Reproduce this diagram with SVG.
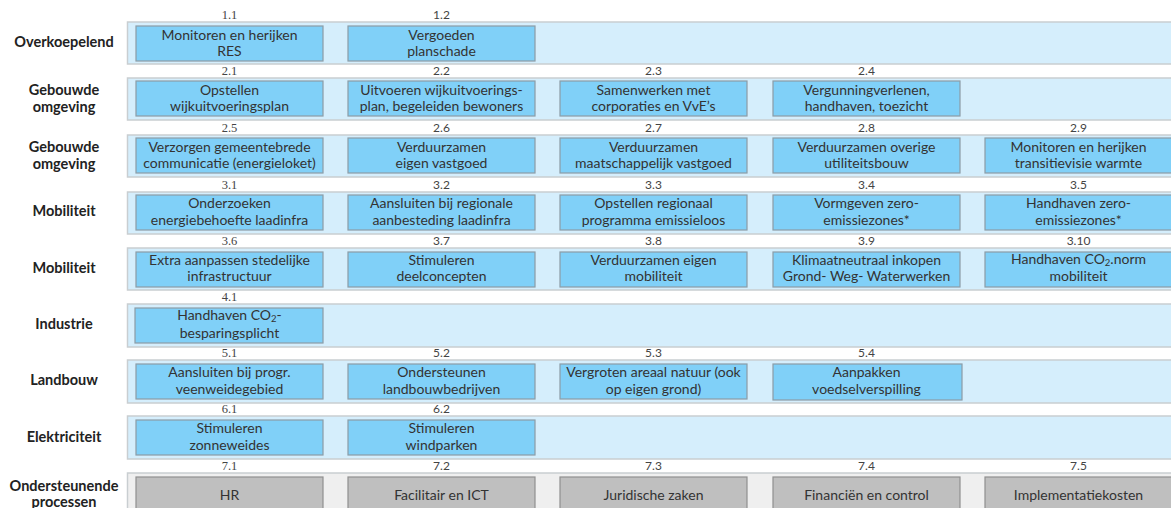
<svg xmlns="http://www.w3.org/2000/svg" width="1171" height="508" viewBox="0 0 1171 508">
<style>
.band{fill:#d5eefc;stroke:#c9ced1;stroke-width:1.5}
.bandg{fill:#efefef;stroke:#c9ced1;stroke-width:1.5}
.box{fill:#80d0f8;stroke:#8c9ca6;stroke-width:1.2}
.boxg{fill:#bfbfbf;stroke:#8f8f8f;stroke-width:1.2}
.t{font-family:Lato,"Open Sans",sans-serif;font-size:14px;fill:#333;text-anchor:middle}
.rl{font-family:Lato,"Open Sans",sans-serif;font-size:14.5px;font-weight:bold;fill:#222;text-anchor:middle}
.n{font-family:Lato,"Open Sans",sans-serif;font-size:12px;fill:#444;text-anchor:middle}
.ns{font-family:"Liberation Serif",serif;font-size:12.5px;fill:#444;text-anchor:middle}
.sub{font-size:9.5px}
</style>
<rect width="1171" height="508" fill="#ffffff"/>
<g id="bands">
<rect class="band" x="127.5" y="22" width="1060" height="42"/>
<rect class="band" x="127.5" y="78" width="1060" height="42"/>
<rect class="band" x="127.5" y="135" width="1060" height="42"/>
<rect class="band" x="127.5" y="192" width="1060" height="42"/>
<rect class="band" x="127.5" y="248" width="1060" height="42"/>
<rect class="band" x="127.5" y="304" width="1060" height="43"/>
<rect class="band" x="127.5" y="360" width="1060" height="43"/>
<rect class="band" x="127.5" y="416" width="1060" height="43"/>
<rect class="bandg" x="127.5" y="473" width="1060" height="50"/>
</g>
<g id="row-labels">
<text class="rl" x="64" y="47">Overkoepelend</text>
<text class="rl" x="64" y="95">Gebouwde</text><text class="rl" x="64" y="112">omgeving</text>
<text class="rl" x="64" y="152">Gebouwde</text><text class="rl" x="64" y="169">omgeving</text>
<text class="rl" x="64" y="216">Mobiliteit</text>
<text class="rl" x="64" y="273">Mobiliteit</text>
<text class="rl" x="64" y="329">Industrie</text>
<text class="rl" x="64" y="385">Landbouw</text>
<text class="rl" x="64" y="442">Elektriciteit</text>
<text class="rl" x="64" y="491">Ondersteunende</text><text class="rl" x="64" y="507">processen</text>
</g>
<g id="n1-1"><text class="ns" x="229.5" y="19">1.1</text><rect class="box" x="136" y="26" width="187" height="35"/><text class="t" x="229.5" y="40">Monitoren en herijken</text><text class="t" x="229.5" y="56">RES</text></g>
<g id="n1-2"><text class="n" x="441.5" y="19">1.2</text><rect class="box" x="348" y="26" width="187" height="35"/><text class="t" x="441.5" y="40">Vergoeden</text><text class="t" x="441.5" y="56">planschade</text></g>

<g id="n2-1"><text class="ns" x="229.5" y="75">2.1</text><rect class="box" x="136" y="81" width="187" height="35"/><text class="t" x="229.5" y="95">Opstellen</text><text class="t" x="229.5" y="111">wijkuitvoeringsplan</text></g>
<g id="n2-2"><text class="n" x="441.5" y="75">2.2</text><rect class="box" x="348" y="81" width="187" height="35"/><text class="t" x="441.5" y="95">Uitvoeren wijkuitvoerings-</text><text class="t" x="441.5" y="111">plan, begeleiden bewoners</text></g>
<g id="n2-3"><text class="n" x="653.5" y="75">2.3</text><rect class="box" x="560" y="81" width="187" height="35"/><text class="t" x="653.5" y="95">Samenwerken met</text><text class="t" x="653.5" y="111">corporaties en VvE’s</text></g>
<g id="n2-4"><text class="n" x="866.5" y="75">2.4</text><rect class="box" x="773" y="81" width="187" height="35"/><text class="t" x="866.5" y="95">Vergunningverlenen,</text><text class="t" x="866.5" y="111">handhaven, toezicht</text></g>

<g id="n2-5"><text class="ns" x="229.5" y="132">2.5</text><rect class="box" x="136" y="138" width="187" height="35"/><text class="t" x="229.5" y="152">Verzorgen gemeentebrede</text><text class="t" x="229.5" y="168">communicatie (energieloket)</text></g>
<g id="n2-6"><text class="n" x="441.5" y="132">2.6</text><rect class="box" x="348" y="138" width="187" height="35"/><text class="t" x="441.5" y="152">Verduurzamen</text><text class="t" x="441.5" y="168">eigen vastgoed</text></g>
<g id="n2-7"><text class="n" x="653.5" y="132">2.7</text><rect class="box" x="560" y="138" width="187" height="35"/><text class="t" x="653.5" y="152">Verduurzamen</text><text class="t" x="653.5" y="168">maatschappelijk vastgoed</text></g>
<g id="n2-8"><text class="n" x="866.5" y="132">2.8</text><rect class="box" x="773" y="138" width="187" height="35"/><text class="t" x="866.5" y="152">Verduurzamen overige</text><text class="t" x="866.5" y="168">utiliteitsbouw</text></g>
<g id="n2-9"><text class="n" x="1078.5" y="132">2.9</text><rect class="box" x="985" y="138" width="187" height="35"/><text class="t" x="1078.5" y="152">Monitoren en herijken</text><text class="t" x="1078.5" y="168">transitievisie warmte</text></g>

<g id="n3-1"><text class="ns" x="229.5" y="189">3.1</text><rect class="box" x="136" y="195" width="187" height="35"/><text class="t" x="229.5" y="208">Onderzoeken</text><text class="t" x="229.5" y="225">energiebehoefte laadinfra</text></g>
<g id="n3-2"><text class="n" x="441.5" y="189">3.2</text><rect class="box" x="348" y="195" width="187" height="35"/><text class="t" x="441.5" y="208">Aansluiten bij regionale</text><text class="t" x="441.5" y="225">aanbesteding laadinfra</text></g>
<g id="n3-3"><text class="n" x="653.5" y="189">3.3</text><rect class="box" x="560" y="195" width="187" height="35"/><text class="t" x="653.5" y="208">Opstellen regionaal</text><text class="t" x="653.5" y="225">programma emissieloos</text></g>
<g id="n3-4"><text class="n" x="866.5" y="189">3.4</text><rect class="box" x="773" y="195" width="187" height="35"/><text class="t" x="866.5" y="208">Vormgeven zero-</text><text class="t" x="866.5" y="225">emissiezones*</text></g>
<g id="n3-5"><text class="n" x="1078.5" y="189">3.5</text><rect class="box" x="985" y="195" width="187" height="35"/><text class="t" x="1078.5" y="208">Handhaven zero-</text><text class="t" x="1078.5" y="225">emissiezones*</text></g>

<g id="n3-6"><text class="ns" x="229.5" y="245">3.6</text><rect class="box" x="136" y="252" width="187" height="35"/><text class="t" x="229.5" y="265">Extra aanpassen stedelijke</text><text class="t" x="229.5" y="281">infrastructuur</text></g>
<g id="n3-7"><text class="n" x="441.5" y="245">3.7</text><rect class="box" x="348" y="252" width="187" height="35"/><text class="t" x="441.5" y="265">Stimuleren</text><text class="t" x="441.5" y="281">deelconcepten</text></g>
<g id="n3-8"><text class="n" x="653.5" y="245">3.8</text><rect class="box" x="560" y="252" width="187" height="35"/><text class="t" x="653.5" y="265">Verduurzamen eigen</text><text class="t" x="653.5" y="281">mobiliteit</text></g>
<g id="n3-9"><text class="n" x="866.5" y="245">3.9</text><rect class="box" x="773" y="252" width="187" height="35"/><text class="t" x="866.5" y="265">Klimaatneutraal inkopen</text><text class="t" x="866.5" y="281">Grond- Weg- Waterwerken</text></g>
<g id="n3-10"><text class="n" x="1078.5" y="245">3.10</text><rect class="box" x="985" y="252" width="187" height="35"/><text class="t" x="1078.5" y="264">Handhaven CO<tspan class="sub" dy="2">2</tspan><tspan dy="-2">.norm</tspan></text><text class="t" x="1078.5" y="281">mobiliteit</text></g>

<g id="n4-1"><text class="ns" x="229.5" y="301">4.1</text><rect class="box" x="135" y="308" width="188" height="35"/><text class="t" x="229.5" y="320">Handhaven CO<tspan class="sub" dy="2">2</tspan><tspan dy="-2">-</tspan></text><text class="t" x="229.5" y="338">besparingsplicht</text></g>

<g id="n5-1"><text class="ns" x="229.5" y="357">5.1</text><rect class="box" x="136" y="364" width="187" height="35"/><text class="t" x="229.5" y="377">Aansluiten bij progr.</text><text class="t" x="229.5" y="394">veenweidegebied</text></g>
<g id="n5-2"><text class="n" x="441.5" y="357">5.2</text><rect class="box" x="348" y="364" width="187" height="35"/><text class="t" x="441.5" y="377">Ondersteunen</text><text class="t" x="441.5" y="394">landbouwbedrijven</text></g>
<g id="n5-3"><text class="n" x="653.5" y="357">5.3</text><rect class="box" x="560" y="364" width="187" height="35"/><text class="t" x="653.5" y="377">Vergroten areaal natuur (ook</text><text class="t" x="653.5" y="394">op eigen grond)</text></g>
<g id="n5-4"><text class="n" x="866.5" y="357">5.4</text><rect class="box" x="773" y="364" width="189" height="36"/><text class="t" x="866.5" y="377">Aanpakken</text><text class="t" x="866.5" y="394">voedselverspilling</text></g>

<g id="n6-1"><text class="ns" x="229.5" y="413">6.1</text><rect class="box" x="136" y="420" width="187" height="35"/><text class="t" x="229.5" y="433">Stimuleren</text><text class="t" x="229.5" y="450">zonneweides</text></g>
<g id="n6-2"><text class="n" x="441.5" y="413">6.2</text><rect class="box" x="348" y="420" width="187" height="35"/><text class="t" x="441.5" y="433">Stimuleren</text><text class="t" x="441.5" y="450">windparken</text></g>

<g id="n7-1"><text class="ns" x="229.5" y="470">7.1</text><rect class="boxg" x="136" y="477" width="187" height="40"/><text class="t" x="229.5" y="500">HR</text></g>
<g id="n7-2"><text class="n" x="441.5" y="470">7.2</text><rect class="boxg" x="348" y="477" width="187" height="40"/><text class="t" x="441.5" y="500">Facilitair en ICT</text></g>
<g id="n7-3"><text class="n" x="653.5" y="470">7.3</text><rect class="boxg" x="560" y="477" width="187" height="40"/><text class="t" x="653.5" y="500">Juridische zaken</text></g>
<g id="n7-4"><text class="n" x="866.5" y="470">7.4</text><rect class="boxg" x="773" y="477" width="187" height="40"/><text class="t" x="866.5" y="500">Financiën en control</text></g>
<g id="n7-5"><text class="n" x="1078.5" y="470">7.5</text><rect class="boxg" x="985" y="477" width="187" height="40"/><text class="t" x="1078.5" y="500">Implementatiekosten</text></g>
<g id="connectors"></g>
</svg>
